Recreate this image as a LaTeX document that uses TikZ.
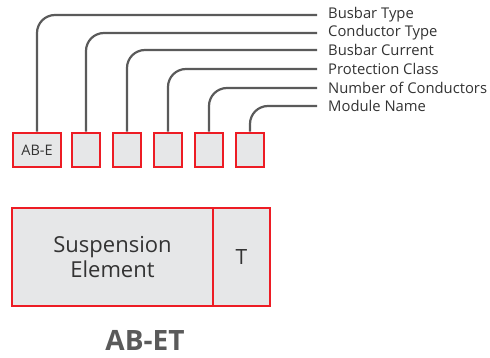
\documentclass[tikz,border=0pt]{standalone}
\usepackage{fontspec}
\setmainfont{Open Sans}
\definecolor{boxred}{HTML}{ED1C24}
\definecolor{boxfill}{HTML}{E6E7E8}
\definecolor{linegray}{HTML}{5A5A5A}
\definecolor{txtgray}{HTML}{333333}
\begin{document}
\begin{tikzpicture}[x=1pt,y=-1pt,
  cell/.style={draw=boxred,fill=boxfill,line width=2.8pt,inner sep=0pt,minimum height=34pt,text=txtgray},
  lbl/.style={anchor=west,inner xsep=11pt,inner ysep=0pt,font=\fontsize{14.8}{15}\selectfont,text=txtgray},
  lead/.style={draw=linegray,line width=2.2pt,rounded corners=18pt}]
\useasboundingbox (0,0) rectangle (490,358);
\node[cell,minimum width=48pt,font=\fontsize{14.5}{15}\selectfont] (b1) at (37,150) {AB-E};
\node[cell,minimum width=28pt] (b2) at (86,150) {};
\node[cell,minimum width=28pt] (b3) at (127,150) {};
\node[cell,minimum width=28pt] (b4) at (168,150) {};
\node[cell,minimum width=28pt] (b5) at (209,150) {};
\node[cell,minimum width=28pt] (b6) at (250,150) {};
\node[lbl] (l1) at (317,15) {Busbar Type};
\node[lbl] (l2) at (317,33) {Conductor Type};
\node[lbl] (l3) at (317,50) {Busbar Current};
\node[lbl] (l4) at (317,69) {Protection Class};
\node[lbl] (l5) at (317,88) {Number of Conductors};
\node[lbl] (l6) at (317,106) {Module Name};
\draw[lead] (b1.north) |- (l1.west);
\draw[lead] (b2.north) |- (l2.west);
\draw[lead] (b3.north) |- (l3.west);
\draw[lead] (b4.north) |- (l4.west);
\draw[lead] (b5.north) |- (l5.west);
\draw[lead] (b6.north) |- (l6.west);
\node[cell,minimum width=201pt,minimum height=98pt,align=center,font=\fontsize{22}{25}\selectfont] (se) at (112.5,257) {Suspension\\Element};
\node[cell,minimum width=57pt,minimum height=98pt,font=\fontsize{21}{22}\selectfont] (t) at (241.5,257) {T};
\node[font=\fontsize{28}{30}\selectfont\bfseries,text=linegray,anchor=base] (title) at (145,350) {AB-ET};
\end{tikzpicture}
\end{document}
